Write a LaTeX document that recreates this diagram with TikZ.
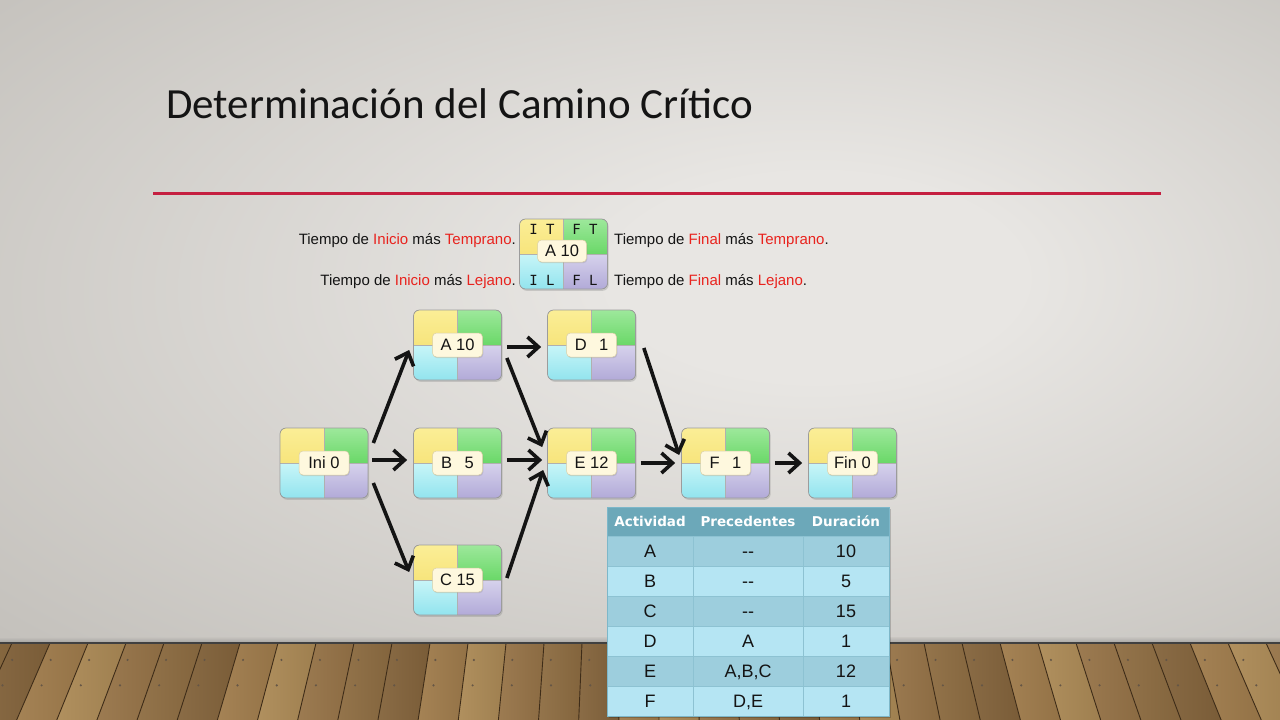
\documentclass[tikz,border=0pt]{standalone}
\usepackage{fontspec}
\setmainfont{Liberation Sans}
\newfontfamily\titlefont{Carlito}
\newfontfamily\quadfont{DejaVu Sans Mono}
\newfontfamily\headfont{DejaVu Sans}
\usetikzlibrary{arrows.meta,shadows,calc}

% palette
\definecolor{wallin}{HTML}{E8E6E3}
\definecolor{wallout}{HTML}{C4C1BC}
\definecolor{rulered}{HTML}{C51F40}
\definecolor{tred}{HTML}{E8231E}
\definecolor{ink}{HTML}{141414}
\definecolor{yT}{HTML}{FBEE96}
\definecolor{yB}{HTML}{F3DB62}
\definecolor{gT}{HTML}{9DE89B}
\definecolor{gB}{HTML}{6AD868}
\definecolor{cT}{HTML}{C8F5F8}
\definecolor{cB}{HTML}{92E4EE}
\definecolor{lT}{HTML}{D6D2EC}
\definecolor{lB}{HTML}{B2AAD8}
\definecolor{boxedge}{HTML}{9C9C9C}
\definecolor{tagfill}{HTML}{FEF8DE}
\definecolor{tagedge}{HTML}{D9CFA6}
\definecolor{thead}{HTML}{6CA8B9}
\definecolor{rowdark}{HTML}{9DCEDD}
\definecolor{rowlight}{HTML}{B5E5F3}
\definecolor{tgrid}{HTML}{8DC2D2}
\definecolor{tborder}{HTML}{7DB7C9}
\definecolor{wood0}{HTML}{A07C4C}
\definecolor{wood1}{HTML}{8E6D42}
\definecolor{wood2}{HTML}{AC8A56}
\definecolor{wood3}{HTML}{84643C}
\definecolor{wood4}{HTML}{977448}
\definecolor{plank}{HTML}{3E2C18}

% soft light in the middle of the wall
\pgfdeclareradialshading{wallshade}{\pgfpoint{8bp}{4bp}}{color(0bp)=(wallin); color(8bp)=(wallin); color(38bp)=(wallout); color(60bp)=(wallout)}

\tikzset{
  actbox/.style={minimum width=88pt, minimum height=70pt, inner sep=0pt,
    rounded corners=6pt, draw=boxedge, line width=0.7pt,
    drop shadow={shadow xshift=1.2pt, shadow yshift=-1.8pt, opacity=0.3},
    path picture={
      \fill[sharp corners, top color=yT, bottom color=yB]
        (path picture bounding box.north west) rectangle (path picture bounding box.center);
      \fill[sharp corners, top color=gT, bottom color=gB]
        (path picture bounding box.north east) rectangle (path picture bounding box.center);
      \fill[sharp corners, top color=cT, bottom color=cB]
        (path picture bounding box.south west) rectangle (path picture bounding box.center);
      \fill[sharp corners, top color=lT, bottom color=lB]
        (path picture bounding box.south east) rectangle (path picture bounding box.center);
      \draw[sharp corners, boxedge!80, line width=0.5pt]
        (path picture bounding box.north) -- (path picture bounding box.south)
        (path picture bounding box.west) -- (path picture bounding box.east);
    }},
  tag/.style={fill=tagfill, draw=tagedge, line width=0.5pt, rounded corners=4pt,
    minimum width=50pt, minimum height=24pt, inner sep=2pt, text=ink,
    font=\fontsize{16.5}{18}\selectfont,
    drop shadow={shadow xshift=0.8pt, shadow yshift=-1.2pt, opacity=0.25}},
  quad/.style={inner sep=0pt, text=ink, font=\quadfont\fontsize{14}{16}\selectfont},
  legtext/.style={inner sep=0pt, text=ink, font=\fontsize{15}{17}\selectfont},
  conn/.style={line width=3.6pt, ink, -{Straight Barb[length=11pt,width=20pt]}},
  cell/.style={inner sep=0pt, anchor=base, text=ink, font=\fontsize{18}{20}\selectfont},
  hcell/.style={inner sep=0pt, text=white, font=\headfont\bfseries\fontsize{13.5}{15}\selectfont},
}

\begin{document}
\begin{tikzpicture}[x=1pt,y=-1pt]
\useasboundingbox (0,0) rectangle (1280,720);

% wall
\shade[shading=wallshade] (0,0) rectangle (1280,643);
\shade[top color=wallout, bottom color=black!45, opacity=0.6] (0,637) rectangle (1280,643);

% wooden floor seen in perspective
\begin{scope}
  \clip (0,643) rectangle (1280,720);
  \fill[wood0] (0,643) rectangle (1280,720);
  \foreach \k in {0,...,40}{
    \pgfmathsetmacro\xa{-140+38*\k}
    \pgfmathsetmacro\xb{\xa+38}
    \pgfmathsetmacro\xc{640+(\xb-640)*1.0566}
    \pgfmathsetmacro\xd{640+(\xa-640)*1.0566}
    \pgfmathtruncatemacro\c{mod(\k*7,5)}
    \shade[left color=wood\c!95!white, right color=wood\c!92!black]
      (\xa,643) -- (\xb,643) -- (\xc,720) -- (\xd,720) -- cycle;
    \draw[plank, line width=0.9pt] (\xa,643) -- (\xd,720);
    \fill[plank!80] ($(\xa,643)!0.22!(\xd,720)+(8,0)$) circle (1.2);
    \fill[plank!80] ($(\xa,643)!0.55!(\xd,720)+(10,0)$) circle (1.2);
  }
\end{scope}
\draw[black!75, line width=1.4pt] (0,643) -- (1280,643);

% title and rule
\node[anchor=base west, inner sep=0pt, text=ink, font=\titlefont\fontsize{43}{48}\selectfont]
  (title) at (166,118) {Determinación del Camino Crítico};
\draw[rulered, line width=3pt] (153,193) -- (1161,193);

% legend box
\node[actbox] (leg) at (563.5,254) {};
\node[quad] (legIT) at (542,229) {I T};
\node[quad] (legFT) at (585,229) {F T};
\node[quad] (legIL) at (542,280) {I L};
\node[quad] (legFL) at (585,280) {F L};
\node[tag, minimum width=49pt, minimum height=22pt] (legtag) at (562,251) {A 10};

\node[legtext, anchor=base east] (lit) at (516,244)
  {Tiempo de \textcolor{tred}{Inicio} más \textcolor{tred}{Temprano}.};
\node[legtext, anchor=base east] (lil) at (516,285)
  {Tiempo de \textcolor{tred}{Inicio} más \textcolor{tred}{Lejano}.};
\node[legtext, anchor=base west] (lft) at (614,244)
  {Tiempo de \textcolor{tred}{Final} más \textcolor{tred}{Temprano}.};
\node[legtext, anchor=base west] (lfl) at (614,285)
  {Tiempo de \textcolor{tred}{Final} más \textcolor{tred}{Lejano}.};

% activity network
\node[actbox] (ini) at (324,463) {};
\node[actbox] (a)   at (457.5,345) {};
\node[actbox] (b)   at (457.5,463) {};
\node[actbox] (c)   at (457.5,580) {};
\node[actbox] (d)   at (591.5,345) {};
\node[actbox] (e)   at (591.5,463) {};
\node[actbox] (f)   at (725.5,463) {};
\node[actbox] (fin) at (852.5,463) {};

\node[tag] (ini-t) at (ini) {Ini 0};
\node[tag] (a-t)   at (a)   {A 10};
\node[tag] (b-t)   at (b)   {B\hspace{0.75em}5};
\node[tag] (c-t)   at (c)   {C 15};
\node[tag] (d-t)   at (d)   {D\hspace{0.75em}1};
\node[tag] (e-t)   at (e)   {E 12};
\node[tag] (f-t)   at (f)   {F\hspace{0.75em}1};
\node[tag] (fin-t) at (fin) {Fin 0};

\draw[conn] ($(ini.east)+(5,-20)$) -- ($(a.west)+(-4,5)$);
\draw[conn] ($(ini.east)+(4,-3)$)  -- ($(b.west)+(-6,-3)$);
\draw[conn] ($(ini.east)+(5,20)$)  -- ($(c.west)+(-4,-8)$);
\draw[conn] ($(a.east)+(5,2)$)     -- ($(d.west)+(-6,2)$);
\draw[conn] ($(a.east)+(5,13)$)    -- ($(e.west)+(-5,-16)$);
\draw[conn] ($(b.east)+(5,-3)$)    -- ($(e.west)+(-5,-3)$);
\draw[conn] ($(c.east)+(5,-2)$)    -- ($(e.west)+(-4,7)$);
\draw[conn] ($(d.east)+(8,3)$)     -- ($(f.west)+(-2,-8)$);
\draw[conn] ($(e.east)+(5,0)$)     -- ($(f.west)+(-6,0)$);
\draw[conn] ($(f.east)+(5,0)$)     -- ($(fin.west)+(-6,0)$);

% activity table
\fill[black, opacity=0.18] (609,509) rectangle (891,718);
\fill[thead] (607,507) rectangle (889,536);
\node[hcell] (h1) at (650,521) {Actividad};
\node[hcell] (h2) at (748,521) {Precedentes};
\node[hcell] (h3) at (846,521) {Duración};
\foreach \a/\p/\d [count=\i] in {A/{-{}-}/10, B/{-{}-}/5, C/{-{}-}/15, D/A/1, E/{A,B,C}/12, F/{D,E}/1}{
  \pgfmathsetmacro\yt{536+30*(\i-1)}
  \pgfmathtruncatemacro\odd{mod(\i,2)}
  \ifnum\odd=1 \def\rc{rowdark}\else\def\rc{rowlight}\fi
  \fill[\rc] (607,\yt) rectangle (889,\yt+30);
  \draw[tgrid, line width=0.8pt] (607,\yt) -- (889,\yt);
  \node[cell] (r\i-a) at (650,\yt+21.5) {\a};
  \node[cell] (r\i-p) at (748,\yt+21.5) {\p};
  \node[cell] (r\i-d) at (846,\yt+21.5) {\d};
}
\draw[tgrid, line width=0.8pt] (693,536) -- (693,716) (803,536) -- (803,716);
\draw[tborder, line width=1pt] (607,507) rectangle (889,716);

\end{tikzpicture}
\end{document}
